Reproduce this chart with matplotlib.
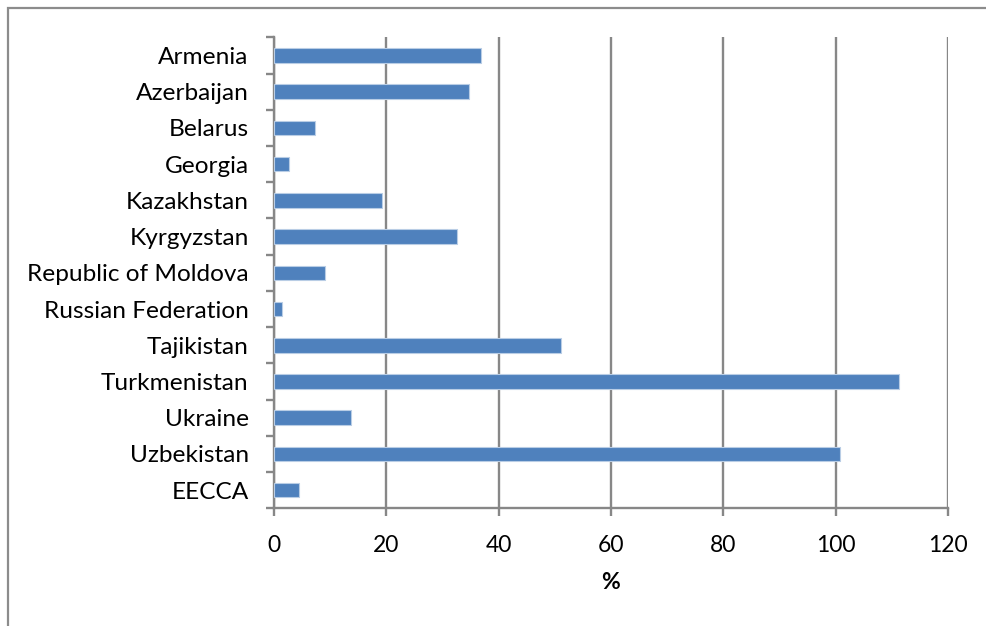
import matplotlib
matplotlib.use("Agg")
import matplotlib.pyplot as plt
from matplotlib.patches import Rectangle
import numpy as np

countries = ["Armenia", "Azerbaijan", "Belarus", "Georgia", "Kazakhstan",
             "Kyrgyzstan", "Republic of Moldova", "Russian Federation",
             "Tajikistan", "Turkmenistan", "Ukraine", "Uzbekistan", "EECCA"]
values = [36.8, 34.7, 7.4, 2.8, 19.3, 32.6, 9.1, 1.4, 51.1, 111.2, 13.7, 100.7, 4.5]
x_ticks = [0, 20, 40, 60, 80, 100, 120]
x_label = "%"

plt.rcParams['font.family'] = ['Lato', 'DejaVu Sans']

W, H, DPI = 986, 626, 100
fig = plt.figure(figsize=(W / DPI, H / DPI), dpi=DPI)

# chart frame
fig.add_artist(Rectangle((8 / W, -0.1), 1.2, (H - 8) / H + 0.1, transform=fig.transFigure,
                         fill=False, edgecolor="#8c8c8c", linewidth=1.6))

left, right, top, bottom = 273.7, 948.3, 37.3, 508.3
ax = fig.add_axes([left / W, 1 - bottom / H, (right - left) / W, (bottom - top) / H])

grey = "#878787"
n = len(countries)
y = np.arange(n)
ax.barh(y, values, height=0.4, color="#4F81BD", edgecolor="#b9cde5", linewidth=0.8, zorder=3)

ax.set_ylim(n - 0.5, -0.5)
ax.set_xlim(0, 120)
ax.set_xticks(x_ticks)
ax.set_xticklabels([str(t) for t in x_ticks])
ax.set_yticks(y)
ax.set_yticklabels(countries)
ax.set_yticks(np.arange(n + 1) - 0.5, minor=True)

ax.xaxis.grid(True, color=grey, linewidth=1.7, zorder=0)
ax.set_axisbelow(True)

for s in ["top", "right"]:
    ax.spines[s].set_visible(False)
for s in ["left", "bottom"]:
    ax.spines[s].set_color(grey)
    ax.spines[s].set_linewidth(1.7)

ax.tick_params(axis="y", which="major", length=0, pad=18, labelsize=17.6, labelcolor="#000000")
ax.tick_params(axis="y", which="minor", length=6, width=1.7, color=grey, direction="out")
ax.tick_params(axis="x", which="major", length=6, width=1.7, color=grey, direction="out",
               pad=13, labelsize=16.5)

ax.set_xlabel(x_label, fontsize=16.5, fontweight="bold", labelpad=12)

fig.savefig("out.png", dpi=DPI, facecolor="white")
